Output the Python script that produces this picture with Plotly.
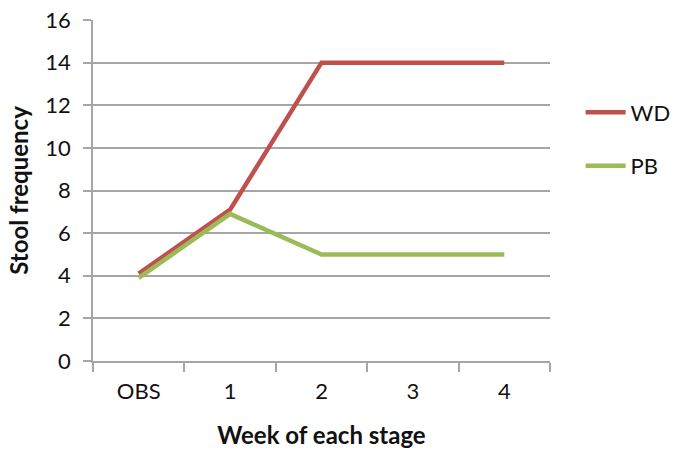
import plotly.graph_objects as go

categories = ["OBS", "1", "2", "3", "4"]
wd_values = [4.1, 7.1, 14, 14, 14]
pb_values = [3.9, 6.9, 5, 5, 5]
y_ticks = [0, 2, 4, 6, 8, 10, 12, 14, 16]

font_family = "Lato, Calibri, Carlito, sans-serif"
grid_color = "#A6A6A6"

fig = go.Figure()
fig.add_trace(go.Scatter(x=categories, y=wd_values, mode="lines", name="WD",
                         legendgroup="wd",
                         line=dict(color="#C0504D", width=4.5)))
fig.add_trace(go.Scatter(x=categories, y=pb_values, mode="lines", name="PB",
                         legendgroup="pb",
                         line=dict(color="#9BBB59", width=4.5)))

fig.update_layout(
    width=675, height=450,
    margin=dict(l=93, r=125, t=20, b=89, autoexpand=False),
    paper_bgcolor="white", plot_bgcolor="white",
    font=dict(family=font_family, size=22, color="#111111"),
    legend=dict(x=1.067, y=0.65, xanchor="left", yanchor="middle",
                traceorder="grouped", tracegroupgap=22,
                font=dict(size=22), itemwidth=40),
    xaxis=dict(type="category", tickson="boundaries", range=[-0.5, 4.5],
               showline=True, linecolor=grid_color, linewidth=1.5,
               ticks="outside", ticklen=9, tickcolor=grid_color, tickwidth=1.5,
               showgrid=False, tickfont=dict(size=22), ticklabelstandoff=10,
               title=dict(text="<b>Week of each stage</b>", standoff=24,
                          font=dict(size=24))),
    yaxis=dict(range=[0, 16], tickvals=y_ticks,
               showline=True, linecolor=grid_color, linewidth=1.5,
               ticks="outside", ticklen=8, tickcolor=grid_color, tickwidth=1.5,
               showgrid=True, gridcolor=grid_color, gridwidth=1.5,
               zeroline=False, tickfont=dict(size=22), ticklabelstandoff=8,
               title=dict(text="<b>Stool frequency</b>", standoff=10,
                          font=dict(size=24))),
)

fig.write_html("out.html")
